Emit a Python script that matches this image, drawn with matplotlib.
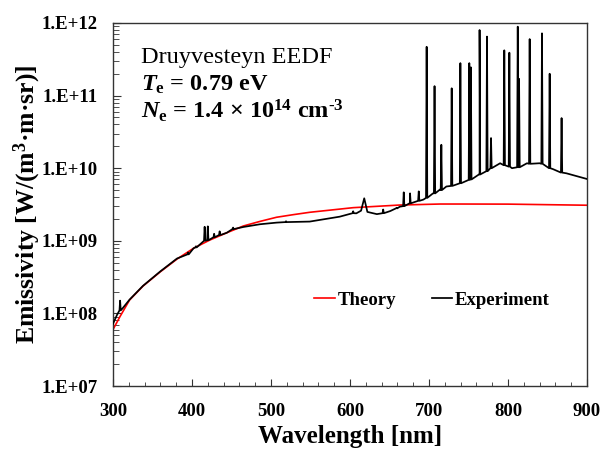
import matplotlib
matplotlib.use("Agg")
import matplotlib.pyplot as plt
from matplotlib.ticker import LogLocator, MultipleLocator, NullFormatter

# Theory curve
theory_wl = [300, 309, 321, 338, 360, 381, 402, 423, 444, 465, 486, 507, 528, 549,
             604, 663, 714, 740, 800, 900]
theory_val = [6.0e7, 9.1e7, 1.53e8, 2.38e8, 3.75e8, 5.6e8, 7.9e8, 1.03e9, 1.29e9,
              1.60e9, 1.85e9, 2.11e9, 2.29e9, 2.47e9, 2.86e9, 3.11e9, 3.21e9, 3.21e9,
              3.20e9, 3.09e9]

# Experiment continuum
base_wl = [300, 305, 312, 321, 338, 360, 381, 402, 423, 444, 465, 486, 507, 528, 549,
           562, 587, 608, 614, 618, 622, 634, 651, 663, 676, 693, 705, 714, 722, 739,
           764, 790, 805, 824, 840, 857, 874, 900]
base_val = [7.2e7, 9.5e7, 1.17e8, 1.55e8, 2.4e8, 3.8e8, 5.7e8, 7.9e8, 1.05e9, 1.29e9,
            1.55e9, 1.69e9, 1.78e9, 1.82e9, 1.84e9, 1.94e9, 2.15e9, 2.39e9, 2.6e9,
            3.85e9, 2.5e9, 2.33e9, 2.57e9, 2.95e9, 3.28e9, 3.7e9, 4.5e9, 5.1e9, 5.6e9,
            6.2e9, 8.2e9, 1.17e10, 1.0e10, 1.17e10, 1.17e10, 9.7e9, 8.5e9, 7.1e9]

# Emission lines: wavelength, peak value, local continuum
line_wl = [309, 395, 405, 416, 420, 428, 435, 452, 519, 604, 642, 659, 668, 676, 687,
           697, 707, 715.6, 728.7, 739.7, 751, 753, 764, 773.4, 778.5, 795.3, 801.7,
           812.3, 814, 827.4, 843, 852.7, 867.8]
line_top = [1.5e8, 6.9e8, 8.4e8, 1.56e9, 1.58e9, 1.25e9, 1.35e9, 1.52e9, 1.86e9,
            2.55e9, 2.7e9, 2.85e9, 4.65e9, 4.5e9, 4.8e9,
            4.7e11, 1.35e11, 2.1e10, 1.26e11, 2.8e11, 2.8e11, 2.45e11, 8.0e11, 6.5e11,
            2.6e10, 4.2e11, 3.9e11, 8.9e11, 1.7e11, 6.0e11, 7.2e11, 2.0e11, 4.9e10]
line_base = [1.1e8, 6.5e8, 8.1e8, 1.0e9, 1.02e9, 1.12e9, 1.2e9, 1.45e9, 1.81e9,
             2.4e9, 2.4e9, 2.8e9, 3.0e9, 3.28e9, 3.55e9,
             3.9e9, 4.5e9, 5.0e9, 5.7e9, 6.2e9, 6.9e9, 7.0e9, 8.2e9, 9.1e9,
             1.0e10, 1.1e10, 1.05e10, 1.03e10, 1.03e10, 1.15e10, 1.15e10, 1.0e10, 8.7e9]

ytick_vals = [1e7, 1e8, 1e9, 1e10, 1e11, 1e12]
ytick_labels = ["1.E+07", "1.E+08", "1.E+09", "1.E+10", "1.E+11", "1.E+12"]
xtick_vals = [300, 400, 500, 600, 700, 800, 900]

plt.rcParams["font.family"] = ["Liberation Serif", "DejaVu Serif"]
plt.rcParams["mathtext.fontset"] = "custom"
plt.rcParams["mathtext.rm"] = "Liberation Serif:bold"
plt.rcParams["mathtext.bf"] = "Liberation Serif:bold"
plt.rcParams["mathtext.it"] = "Liberation Serif:bold:italic"

# merge continuum and lines into one spectrum
pts = list(zip(base_wl, base_val))
for w, t, b in zip(line_wl, line_top, line_base):
    pts += [(w - 0.8, b), (w, t), (w + 0.8, b)]
pts.sort()
exp_wl = [p[0] for p in pts]
exp_val = [p[1] for p in pts]

fig = plt.figure(figsize=(6.03, 4.5), dpi=100)
ax = fig.add_axes([0.1874, 0.1422, 0.7861, 0.8067])

ax.plot(theory_wl, theory_val, color="#ff0000", lw=1.2, label="Theory", zorder=2)
ax.plot(exp_wl, exp_val, color="black", lw=1.25, label="Experiment", zorder=3)

ax.set_yscale("log")
ax.set_xlim(300, 900)
ax.set_ylim(1e7, 1e12)
ax.set_xticks(xtick_vals)
ax.xaxis.set_minor_locator(MultipleLocator(20))
ax.set_yticks(ytick_vals)
ax.set_yticklabels(ytick_labels)
ax.yaxis.set_minor_locator(LogLocator(base=10, subs=range(2, 10)))
ax.yaxis.set_minor_formatter(NullFormatter())

for lab in ax.get_xticklabels() + ax.get_yticklabels():
    lab.set_fontweight("bold")
    lab.set_fontsize(13.5)

ax.tick_params(axis="both", which="both", direction="in", top=False, right=False,
               color="#333333")
ax.tick_params(axis="y", which="major", length=6, pad=11)
ax.tick_params(axis="y", which="minor", length=4)
ax.tick_params(axis="x", which="major", length=5, pad=12)
ax.tick_params(axis="x", which="minor", length=3)
for s in ax.spines.values():
    s.set_color("#333333")
    s.set_linewidth(1.0)

ax.set_xlabel("Wavelength [nm]", fontsize=18, fontweight="bold", labelpad=4)
ax.set_ylabel("Emissivity [W/(m$^{3}$·m·sr)]", fontsize=18.5, fontweight="bold",
              labelpad=-1)

ax.text(0.059, 0.891, "Druyvesteyn EEDF", transform=ax.transAxes, fontsize=17.5,
        va="baseline", ha="left")
ax.text(0.059, 0.8135, r"$T_{\rm e}$ = 0.79 eV", transform=ax.transAxes,
        fontsize=17.5, fontweight="bold", va="baseline", ha="left")
ax.text(0.059, 0.738, r"$N_{\rm e}$ = 1.4 × 10$^{14}$ cm$^{\text{-}3}$",
        transform=ax.transAxes, fontsize=17.5, fontweight="bold", va="baseline",
        ha="left")

leg = ax.legend(loc="center", bbox_to_anchor=(0.673, 0.237), ncol=2, frameon=False,
                handlelength=1.1, handletextpad=0.15, columnspacing=1.9,
                prop={"weight": "bold", "size": 13.5})

fig.savefig("out.png", dpi=100)
